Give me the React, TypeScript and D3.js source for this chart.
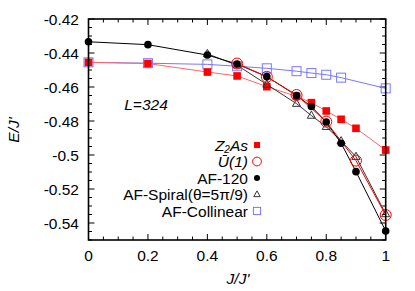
import React from "react";
import * as d3 from "d3";

// J/J' positions and energies per state
const xAF120 = [0, 0.2, 0.4, 0.5, 0.6, 0.7, 0.75, 0.8, 0.85, 0.9, 1.0];
const eAF120 = [-0.4334, -0.4351, -0.4412, -0.4465, -0.4539, -0.465, -0.4715, -0.4806, -0.4931, -0.5098, -0.5447];

const xZ2 = [0, 0.2, 0.4, 0.5, 0.6, 0.7, 0.75, 0.8, 0.85, 0.9, 1.0];
const eZ2 = [-0.4455, -0.4462, -0.4512, -0.4535, -0.4598, -0.4655, -0.4692, -0.4741, -0.479, -0.4843, -0.4971];

const xU1 = [0.5, 0.6, 0.7, 0.8, 0.9, 1.0];
const eU1 = [-0.4462, -0.454, -0.4647, -0.4804, -0.5033, -0.5353];

const xSpiral = [0.4, 0.5, 0.6, 0.7, 0.75, 0.8, 0.85, 0.9, 1.0];
const eSpiral = [-0.4405, -0.4472, -0.4585, -0.4698, -0.4768, -0.4834, -0.4918, -0.501, -0.5347];

const xColl = [0, 0.2, 0.4, 0.5, 0.6, 0.7, 0.75, 0.8, 0.85, 1.0];
const eColl = [-0.4455, -0.446, -0.4467, -0.4478, -0.449, -0.4507, -0.4518, -0.4528, -0.4545, -0.4608];

const xTicks = [0, 0.2, 0.4, 0.6, 0.8, 1];
const xTickLabels = ["0", "0.2", "0.4", "0.6", "0.8", "1"];
const yTicks = [-0.42, -0.44, -0.46, -0.48, -0.5, -0.52, -0.54];
const yTickLabels = ["-0.42", "-0.44", "-0.46", "-0.48", "-0.5", "-0.52", "-0.54"];

const W = 415;
const H = 291;
const FONT = "'Liberation Sans', Arial, sans-serif";

const x = d3.scaleLinear().domain([0, 1]).range([88.5, 385.7]);
const y = d3.scaleLinear().domain([-0.55, -0.42]).range([240, 19]);

const zip = (xs: number[], ys: number[]) => xs.map((v, i) => [v, ys[i]] as [number, number]);
const line = d3
  .line<[number, number]>()
  .x((d) => x(d[0]))
  .y((d) => y(d[1]));

const RED = "#ff0000";
const BLUE = "#7777ff";

const tri = (cx: number, cy: number, s: number) =>
  `M${cx},${cy - s} L${cx + s * 0.9},${cy + s * 0.6} L${cx - s * 0.9},${cy + s * 0.6} Z`;

const Marker = ({ kind, cx, cy, k = 1 }: { kind: string; cx: number; cy: number; k?: number }) => {
  if (kind === "z2") return <rect x={cx - 3.8 * k} y={cy - 3.8 * k} width={7.6 * k} height={7.6 * k} fill={RED} />;
  if (kind === "u1") return <circle cx={cx} cy={cy} r={5.5 * k} fill="none" stroke={RED} strokeWidth={1} />;
  if (kind === "af") return <circle cx={cx} cy={cy} r={3.8 * k} fill="#000" />;
  if (kind === "sp") return <path d={tri(cx, cy, 4.5 * k)} fill="none" stroke="#333" strokeWidth={1} />;
  return <rect x={cx - 4.5 * k} y={cy - 4.5 * k} width={9 * k} height={9 * k} fill="none" stroke={BLUE} strokeWidth={1} />;
};

export default function App() {
  const [x0, x1] = x.range();
  const [y0, y1] = y.range();
  const xMinor = d3.range(0, 1.0001, 0.05);
  const yMinor = d3.range(-0.55, -0.4199, 0.005);

  const series = [
    { kind: "coll", xs: xColl, es: eColl, stroke: BLUE },
    { kind: "z2", xs: xZ2, es: eZ2, stroke: "#ff6666" },
    { kind: "sp", xs: xSpiral, es: eSpiral, stroke: "#333" },
    { kind: "af", xs: xAF120, es: eAF120, stroke: "#000" },
    { kind: "u1", xs: xU1, es: eU1, stroke: RED },
  ];

  const legendRows = [
    { kind: "z2", y: 145 },
    { kind: "u1", y: 161.5 },
    { kind: "af", y: 178 },
    { kind: "sp", y: 194.5 },
    { kind: "coll", y: 211 },
  ];
  const lx = 248;
  const mx = 257;

  return (
    <svg width={W} height={H} style={{ position: "absolute", left: 0, top: 0, background: "#fff" }} fontFamily={FONT}>
      {/* ticks, inward, mirrored */}
      {xMinor.map((v, i) => {
        const major = i % 4 === 0;
        const len = major ? 6 : 3.5;
        return (
          <g key={"xm" + i} stroke="#000" strokeWidth={1}>
            <line x1={x(v)} x2={x(v)} y1={y0} y2={y0 - len} />
            <line x1={x(v)} x2={x(v)} y1={y1} y2={y1 + len} />
          </g>
        );
      })}
      {yMinor.map((v, i) => {
        const major = i % 4 === 2;
        const len = major ? 6 : 3.5;
        return (
          <g key={"ym" + i} stroke="#000" strokeWidth={1}>
            <line x1={x0} x2={x0 + len} y1={y(v)} y2={y(v)} />
            <line x1={x1} x2={x1 - len} y1={y(v)} y2={y(v)} />
          </g>
        );
      })}

      {/* series lines */}
      {series.map((s) => (
        <path key={"l" + s.kind} d={line(zip(s.xs, s.es)) || ""} fill="none" stroke={s.stroke} strokeWidth={1} />
      ))}
      {/* markers */}
      {series.map((s) =>
        zip(s.xs, s.es).map((d, i) => <Marker key={s.kind + i} kind={s.kind} cx={x(d[0])} cy={y(d[1])} />)
      )}

      <rect x={x0} y={y1} width={x1 - x0} height={y0 - y1} fill="none" stroke="#000" strokeWidth={1.6} />

      {/* tick labels */}
      {xTicks.map((v, i) => (
        <text key={"xt" + i} x={x(v)} y={261} textAnchor="middle" fontSize={15.5}>
          {xTickLabels[i]}
        </text>
      ))}
      {yTicks.map((v, i) => (
        <text key={"yt" + i} x={79} y={y(v) + 5.5} textAnchor="end" fontSize={15.5}>
          {yTickLabels[i]}
        </text>
      ))}

      {/* axis titles */}
      <text x={238} y={284} textAnchor="middle" fontSize={15.5} fontStyle="italic">
        J/J'
      </text>
      <text transform="translate(19,130) rotate(-90)" textAnchor="middle" fontSize={15.5} fontStyle="italic">
        E/J'
      </text>
      <text x={146} y={110} textAnchor="middle" fontSize={15.5} fontStyle="italic">
        L=324
      </text>

      {/* legend */}
      <g fontSize={15.5}>
        <text x={lx} y={150.5} textAnchor="end" fontStyle="italic">
          Z<tspan fontSize={10} dy={2.5}>2</tspan>
          <tspan dy={-2.5}>As</tspan>
        </text>
        <text x={lx} y={167} textAnchor="end" fontStyle="italic">
          Ū(1)
        </text>
        <text x={lx} y={183.5} textAnchor="end">
          AF-120
        </text>
        <text x={lx} y={200} textAnchor="end">
          AF-Spiral(θ=5π/9)
        </text>
        <text x={lx} y={216.5} textAnchor="end">
          AF-Collinear
        </text>
      </g>
      {legendRows.map((r) => (
        <Marker key={"lg" + r.kind} kind={r.kind} cx={mx} cy={r.y} k={0.8} />
      ))}
    </svg>
  );
}
